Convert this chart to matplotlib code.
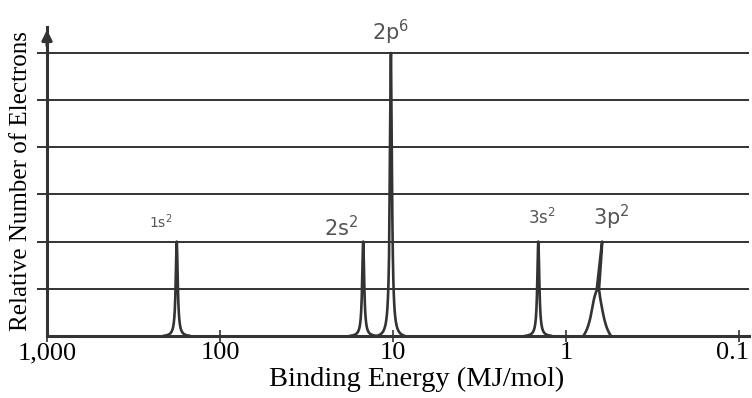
import numpy as np
import matplotlib
matplotlib.use("Agg")
import matplotlib.pyplot as plt

# peaks (MJ/mol, relative number of electrons)
labels = ['1s$^2$', '2s$^2$', '2p$^6$', '3s$^2$', '3p$^2$']
energies = [178, 14.9, 10.3, 1.45, 0.62]
heights = [2, 2, 6, 2, 2]
widths = [0.007, 0.007, 0.007, 0.007, 0.006]  # lorentzian half width, decades
foot = [0, 0, 0, 0, 1.0]                      # height of the broad foot
lean = [0, 0, 0, 0, 0.029]                    # top of peak drawn off its foot, decades
xticks = [1000, 100, 10, 1, 0.1]
xticklabels = ['1,000', '100', '10', '1', '0.1']

plt.rcParams['font.family'] = ['Liberation Serif', 'DejaVu Serif']
ink = '#333333'

fig = plt.figure(figsize=(7.52, 3.98), dpi=100)
ax = fig.add_axes([0.0625, 0.156, 0.934, 0.776])


def lorentz(u, w, umax):
    lor = w**2 / (u**2 + w**2)
    edge = w**2 / (umax**2 + w**2)
    return (lor - edge) / (1 - edge)


umax = 0.08
for e, h, w, f, ln in zip(energies, heights, widths, foot, lean):
    u = np.linspace(-umax, umax, 4001)
    y = np.maximum(h * lorentz(u, w, umax), f * lorentz(u, 0.04, umax))
    frac = np.clip((y - 0.8) / (h - 0.8), 0, 1)
    lx = np.log10(e) + ln + u - ln * frac
    ax.plot(10**lx, y, color=ink, lw=1.9, solid_capstyle='butt')

for g in range(1, 7):
    ax.axhline(g, color=ink, lw=1.4, zorder=0)

ax.set_xscale('log')
ax.set_xlim(1000, 0.0875)
ax.set_ylim(0, 6.55)
ax.set_xticks(xticks)
ax.set_xticklabels(xticklabels[:-1] + [''], fontsize=19)
ax.minorticks_off()
# last label sits a little inside the edge
ax.annotate(xticklabels[-1], xy=(xticks[-1], 0), xycoords=('data', 'axes fraction'),
            xytext=(-5, -4.5), textcoords='offset points', ha='center', va='top', fontsize=19)
ax.set_yticks(range(1, 7))
ax.set_yticklabels([])
ax.tick_params(axis='y', length=7, width=1.4, color=ink, direction='out')
ax.tick_params(axis='x', length=9, width=1.2, color=ink, direction='inout', pad=0)

for s in ['top', 'right']:
    ax.spines[s].set_visible(False)
ax.spines['bottom'].set_linewidth(2.2)
ax.spines['bottom'].set_color(ink)
ax.spines['left'].set_linewidth(2.2)
ax.spines['left'].set_color(ink)
ax.annotate('', xy=(0, 1.0), xycoords='axes fraction', xytext=(0, 0.93),
            arrowprops=dict(arrowstyle='-|>', color=ink, lw=2.2, mutation_scale=15),
            annotation_clip=False)

ax.set_xlabel('Binding Energy (MJ/mol)', fontsize=20.5, labelpad=2)
ax.xaxis.label.set_x(0.526)
ax.set_ylabel('Relative Number of Electrons', fontsize=18, labelpad=0)

# handwritten peak labels
offsets = [(0.09, 0.42, 10), (0.13, 0.3, 15), (0.0, 0.44, 15), (-0.02, 0.5, 12), (-0.05, 0.52, 15)]
for lab, e, h, (dx, dy, fs) in zip(labels, energies, heights, offsets):
    ax.text(10**(np.log10(e) + dx), h + dy, lab, ha='center', va='center',
            fontsize=fs, color='#555555', family=['DejaVu Sans'])

fig.savefig('out.png', dpi=100)
